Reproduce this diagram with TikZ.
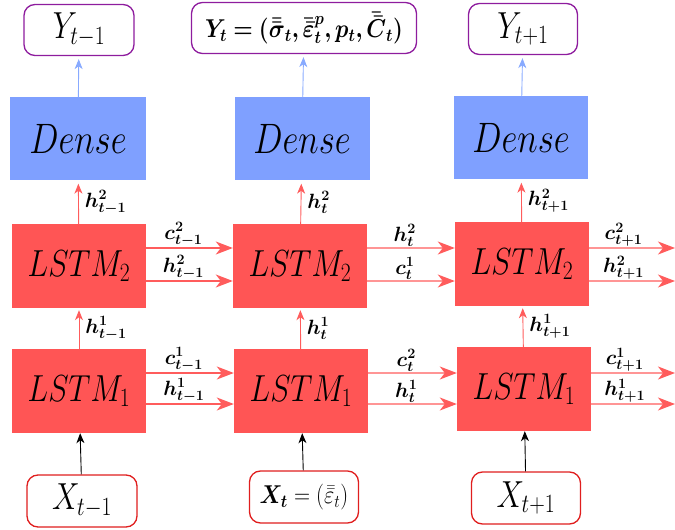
\documentclass[tikz,border=0pt]{standalone}
\usepackage{fix-cm}
\usepackage{amsmath,bm}
\usepackage{graphicx}
\usetikzlibrary{arrows.meta,positioning}
\definecolor{lstmred}{HTML}{FF5555}
\definecolor{denseblue}{HTML}{7FA0FF}
\definecolor{outpurple}{HTML}{8E1C9E}
\definecolor{inred}{HTML}{E01E1E}
\definecolor{arrred}{HTML}{FF5C5C}
\definecolor{arrblue}{HTML}{88AAFF}
\newcommand{\vstretch}[1]{\scalebox{1}[1.22]{#1}}
\newcommand{\wstretch}[1]{\scalebox{1.08}[1.25]{#1}}

\begin{document}
\begin{tikzpicture}[x=1bp,y=-1bp,
    lstm/.style={fill=lstmred,minimum width=134bp,minimum height=84bp,inner sep=0pt,font=\fontsize{31}{33}\selectfont},
    dense/.style={fill=denseblue,minimum width=135bp,minimum height=83bp,inner sep=0pt,font=\fontsize{35}{37}\selectfont},
    outbox/.style={draw=outpurple,line width=1.3bp,rounded corners=11bp,fill=white,minimum width=110bp,minimum height=51bp,inner sep=0pt},
    inbox/.style={draw=inred,line width=1.3bp,rounded corners=11bp,fill=white,minimum width=110bp,minimum height=52bp,inner sep=0pt},
    bigtxt/.style={font=\fontsize{31}{33}\selectfont},
    midtxt/.style={font=\fontsize{20.74}{23}\selectfont},
    harrow/.style={arrred,line width=1.2bp,-{Stealth[length=17bp,width=13bp,inset=5bp]}},
    varrow/.style={line width=0.9bp,-{Stealth[length=10bp,width=8bp,inset=3bp]}},
    lbl/.style={text=black,font=\fontsize{20.74}{22}\selectfont,inner sep=1bp}]
  \useasboundingbox (0,0) rectangle (675,530);

  % inputs
  \node[inbox,bigtxt] (xa) at (82,501) {\vstretch{$X_{t-1}$}};
  \node[inbox,midtxt,minimum width=109bp] (xb) at (304,497) {\wstretch{$\bm{X_t}=(\bar{\bar{\varepsilon}}_t)$}};
  \node[inbox,bigtxt,minimum width=109bp] (xc) at (526,498) {\vstretch{$X_{t+1}$}};

  % first lstm layer
  \node[lstm] (la) at (79,391) {\vstretch{$LSTM_1$}};
  \node[lstm] (lb) at (301,391) {\vstretch{$LSTM_1$}};
  \node[lstm] (lc) at (524,389) {\vstretch{$LSTM_1$}};

  % second lstm layer
  \node[lstm] (ma) at (79,266) {\vstretch{$LSTM_2$}};
  \node[lstm] (mb) at (300,266) {\vstretch{$LSTM_2$}};
  \node[lstm] (mc) at (522,264) {\vstretch{$LSTM_2$}};

  % dense
  \node[dense] (da) at (78,139) {\vstretch{$Dense$}};
  \node[dense] (db) at (302,139) {\vstretch{$Dense$}};
  \node[dense,minimum width=134bp] (dc) at (521,138) {\vstretch{$Dense$}};

  % outputs
  \node[outbox,bigtxt] (ya) at (79,30) {\vstretch{$Y_{t-1}$}};
  \node[outbox,midtxt,minimum width=225bp] (yb) at (304,28) {\wstretch{$\bm{Y_t=(\bar{\bar{\sigma}}_t,\bar{\bar{\varepsilon}}^p_t,p_t,\bar{\bar{C}}_t)}$}};
  \node[outbox,bigtxt,minimum width=109bp] (yc) at (523,29) {\vstretch{$Y_{t+1}$}};

  \coordinate (ob) at (675,248);
  \coordinate (oc) at (675,281);
  \coordinate (pb) at (675,373);
  \coordinate (pc) at (675,404);

  % vertical flow
  \foreach \c in {a,b,c} {
    \draw[varrow] (x\c) -- (l\c);
    \draw[varrow,arrblue,shorten >=3bp] (d\c) -- (y\c);
  }
  \draw[varrow,arrred,shorten >=2bp] (la) -- node[right=5bp,lbl] {$\bm{h^1_{t-1}}$} (ma);
  \draw[varrow,arrred,shorten >=2bp] (lb) -- node[right=5bp,lbl] {$\bm{h^1_{t}}$} (mb);
  \draw[varrow,arrred,shorten >=2bp] (lc) -- node[right=5bp,lbl] {$\bm{h^1_{t+1}}$} (mc);
  \draw[varrow,arrred,shorten >=3bp] (ma) -- node[right=5bp,lbl] {$\bm{h^2_{t-1}}$} (da);
  \draw[varrow,arrred,shorten >=3bp] (mb) -- node[right=5bp,lbl] {$\bm{h^2_{t}}$} (db);
  \draw[varrow,arrred,shorten >=3bp] (mc) -- node[right=5bp,lbl] {$\bm{h^2_{t+1}}$} (dc);

  % states along time, layer 2
  \draw[harrow] ([yshift=18bp]ma.east) -- node[pos=0.43,above,lbl] {$\bm{c^2_{t-1}}$} ([yshift=18bp]mb.west);
  \draw[harrow] ([yshift=-15bp]ma.east) -- node[pos=0.43,above,lbl] {$\bm{h^2_{t-1}}$} ([yshift=-15bp]mb.west);
  \draw[harrow] ([yshift=18bp]mb.east) -- node[pos=0.43,above,lbl] {$\bm{h^2_{t}}$} ([yshift=16bp]mc.west);
  \draw[harrow] ([yshift=-15bp]mb.east) -- node[pos=0.43,above,lbl] {$\bm{c^1_{t}}$} ([yshift=-17bp]mc.west);
  \draw[harrow] ([yshift=16bp]mc.east) -- node[pos=0.4,above,lbl] {$\bm{c^2_{t+1}}$} (ob);
  \draw[harrow] ([yshift=-17bp]mc.east) -- node[pos=0.4,above,lbl] {$\bm{h^2_{t+1}}$} (oc);

  % states along time, layer 1
  \draw[harrow] ([yshift=18bp]la.east) -- node[pos=0.43,above,lbl] {$\bm{c^1_{t-1}}$} ([yshift=18bp]lb.west);
  \draw[harrow] ([yshift=-13bp]la.east) -- node[pos=0.43,above,lbl] {$\bm{h^1_{t-1}}$} ([yshift=-13bp]lb.west);
  \draw[harrow] ([yshift=18bp]lb.east) -- node[pos=0.43,above,lbl] {$\bm{c^2_{t}}$} ([yshift=16bp]lc.west);
  \draw[harrow] ([yshift=-13bp]lb.east) -- node[pos=0.43,above,lbl] {$\bm{h^1_{t}}$} ([yshift=-15bp]lc.west);
  \draw[harrow] ([yshift=16bp]lc.east) -- node[pos=0.4,above,lbl] {$\bm{c^1_{t+1}}$} (pb);
  \draw[harrow] ([yshift=-15bp]lc.east) -- node[pos=0.4,above,lbl] {$\bm{h^1_{t+1}}$} (pc);
\end{tikzpicture}
\end{document}
